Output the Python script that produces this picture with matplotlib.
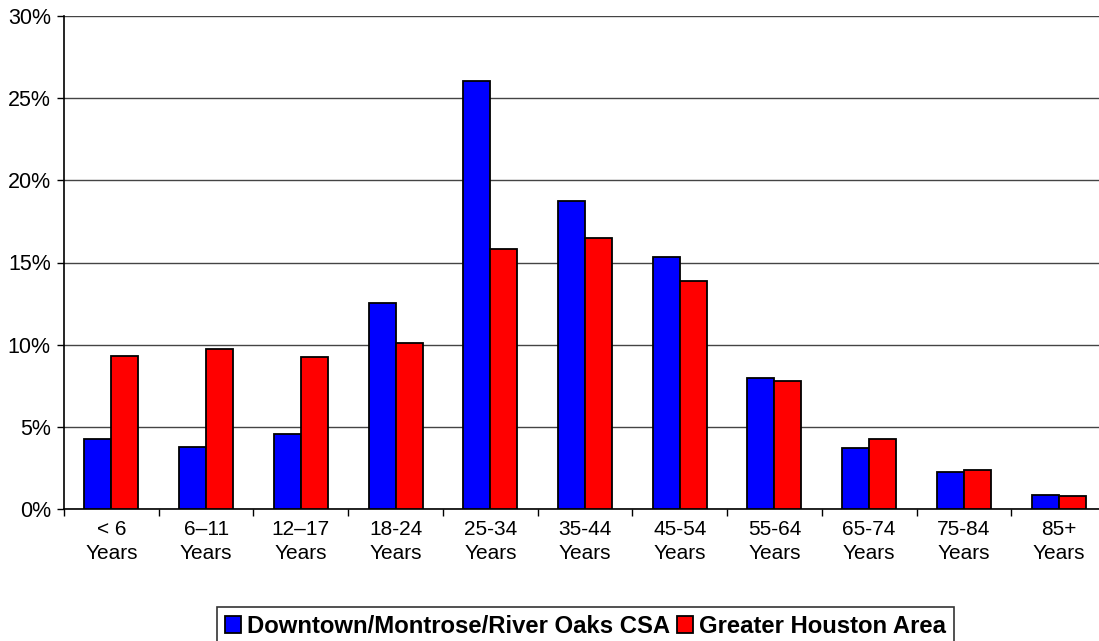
import matplotlib.pyplot as plt
import numpy as np
from matplotlib.ticker import FuncFormatter, FixedLocator

plt.rcParams['font.family'] = ['Liberation Sans', 'DejaVu Sans']

categories = ['< 6\nYears', '6\u201311\nYears', '12\u201317\nYears', '18-24\nYears',
              '25-34\nYears', '35-44\nYears', '45-54\nYears', '55-64\nYears',
              '65-74\nYears', '75-84\nYears', '85+\nYears']
csa = [4.27, 3.80, 4.57, 12.52, 26.02, 18.73, 15.35, 8.00, 3.71, 2.29, 0.85]
houston = [9.30, 9.72, 9.27, 10.12, 15.83, 16.50, 13.89, 7.81, 4.27, 2.41, 0.81]
series_names = ['Downtown/Montrose/River Oaks CSA', 'Greater Houston Area']

fig = plt.figure(figsize=(10.99, 6.41), dpi=100)
# plot area runs past the right edge of the picture, as in the original
ax = fig.add_axes([64 / 1099, 1 - 509.3 / 641, 1042 / 1099, 493.6 / 641])

x = np.arange(len(categories))
w = 0.285
b1 = ax.bar(x - w / 2, csa, w, color='#0000ff', edgecolor='black', linewidth=1.3,
            label=series_names[0], zorder=3)
b2 = ax.bar(x + w / 2, houston, w, color='#ff0000', edgecolor='black', linewidth=1.3,
            label=series_names[1], zorder=3)

ax.set_xlim(-0.5, len(categories) - 0.5)
ax.set_ylim(0, 30)
ax.set_yticks(np.arange(0, 31, 5))
ax.yaxis.set_major_formatter(FuncFormatter(lambda v, p: f'{v:.0f}%'))
ax.yaxis.grid(True, color='#444444', linewidth=1.0, zorder=0)

# category labels in the middle, tick marks between categories
ax.set_xticks(x)
ax.set_xticklabels(categories, fontsize=15, linespacing=1.3)
ax.tick_params(axis='x', which='major', length=0, pad=8)
ax.xaxis.set_minor_locator(FixedLocator(np.arange(-0.5, len(categories), 1)))
ax.tick_params(axis='x', which='minor', length=5, width=1, color='black')
ax.tick_params(axis='y', length=5, width=1, labelsize=15.5, pad=4.5)

for s in ['top', 'right']:
    ax.spines[s].set_visible(False)
ax.spines['left'].set_linewidth(1.2)
ax.spines['bottom'].set_linewidth(1.2)

leg = fig.legend(handles=[b1, b2], loc='upper center',
                 bbox_to_anchor=(585.5 / 1099, 1 - 607 / 641), ncol=2,
                 prop={'weight': 'bold', 'size': 17.2}, frameon=True,
                 fancybox=False, edgecolor='black', handlelength=0.67,
                 handleheight=0.67, handletextpad=0.29, columnspacing=0.25,
                 borderpad=0.33, borderaxespad=0)
leg.get_frame().set_linewidth(1.2)

fig.savefig('out.png', dpi=100)
